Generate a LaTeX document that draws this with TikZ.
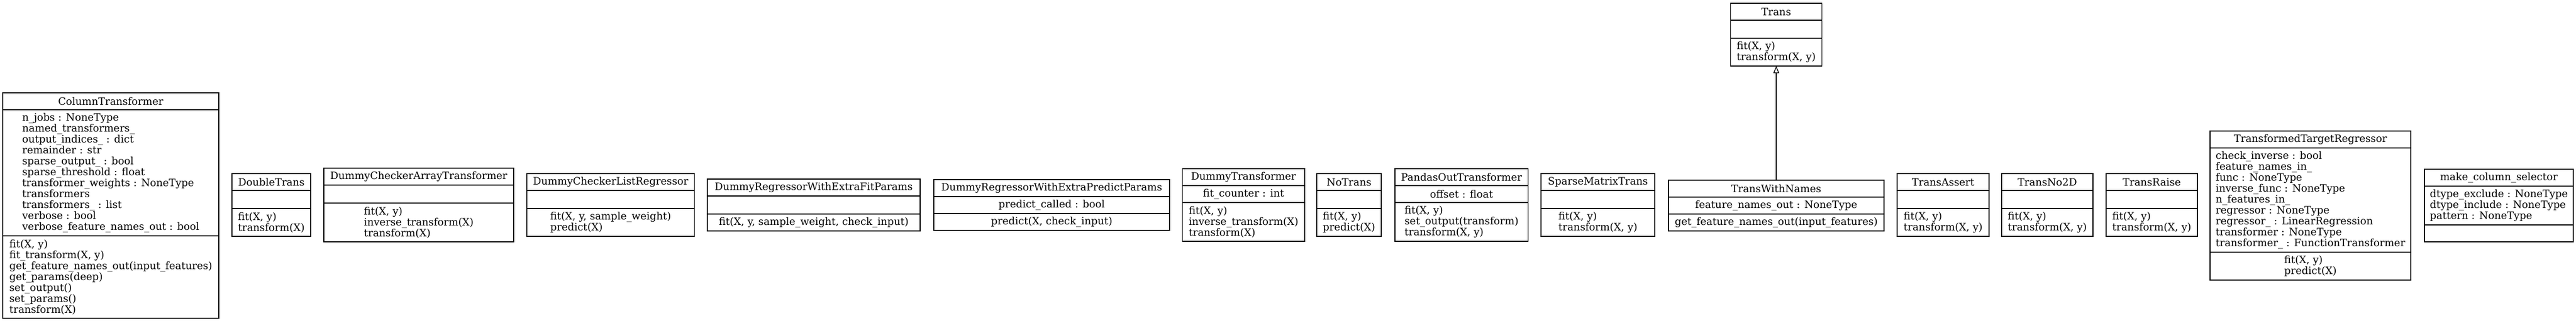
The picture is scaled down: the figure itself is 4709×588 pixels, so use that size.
\documentclass[tikz,border=0pt]{standalone}
\usepackage{fontspec}
\setmainfont{DejaVu Serif}
\usetikzlibrary{arrows.meta, positioning}
\tikzstyle{umlpart} = [rectangle, draw=black, line width=1pt, outer sep=0pt, inner xsep=7pt, inner ysep=0pt, align=left, font=\fontsize{14}{15}\selectfont]
\tikzstyle{inherits} = [line width=1pt, -{Triangle[open, length=9.75pt, width=8pt]}]
% name, top left, width, title, attribute height, attributes, method height, methods
\newcommand{\umlclass}[8]{%
    \node (#1) [umlpart, minimum width=#3, minimum height=23.25pt, anchor=north west] at (#2) {#4};
    \node (#1Attr) [umlpart, minimum width=#3, minimum height=#5, below=0pt of #1] {#6};
    \node (#1Ops) [umlpart, minimum width=#3, minimum height=#7, below=0pt of #1Attr] {#8};}

\begin{document}
\begin{tikzpicture}[x=0.75pt, y=-0.75pt]
    \useasboundingbox (0,0) rectangle (4709,588);

    \umlclass{columnTransformer}{5,170}{296.25pt}{ColumnTransformer}
        {173.25pt}{n\_jobs : NoneType\\named\_transformers\_\\output\_indices\_ : dict\\remainder : str\\sparse\_output\_ : bool\\sparse\_threshold : float\\transformer\_weights : NoneType\\transformers\\transformers\_ : list\\verbose : bool\\verbose\_feature\_names\_out : bool}
        {113.25pt}{fit(X, y)\\fit\_transform(X, y)\\get\_feature\_names\_out(input\_features)\\get\_params(deep)\\set\_output()\\set\_params()\\transform(X)}
    \umlclass{doubleTrans}{424,318}{108pt}{DoubleTrans}
        {24.75pt}{}
        {38.25pt}{fit(X, y)\\transform(X)}
    \umlclass{checkerArray}{592,308}{260.25pt}{DummyCheckerArrayTransformer}
        {24.75pt}{}
        {53.25pt}{fit(X, y)\\inverse\_transform(X)\\transform(X)}
    \umlclass{checkerList}{963,318}{230pt}{DummyCheckerListRegressor}
        {24.75pt}{}
        {38.25pt}{fit(X, y, sample\_weight)\\predict(X)}
    \umlclass{extraFit}{1293,328}{291.75pt}{DummyRegressorWithExtraFitParams}
        {24.75pt}{}
        {23.25pt}{fit(X, y, sample\_weight, check\_input)}
    \umlclass{extraPredict}{1707,329}{323.25pt}{DummyRegressorWithExtraPredictParams}
        {23.25pt}{predict\_called : bool}
        {23.25pt}{predict(X, check\_input)}
    \umlclass{dummyTrans}{2161.5,309}{167.6pt}{DummyTransformer}
        {23.25pt}{fit\_counter : int}
        {53.25pt}{fit(X, y)\\inverse\_transform(X)\\transform(X)}
    \umlclass{noTrans}{2407,318}{88.5pt}{NoTrans}
        {24.75pt}{}
        {38.25pt}{fit(X, y)\\predict(X)}
    \umlclass{pandasOut}{2550,309}{182.6pt}{PandasOutTransformer}
        {23.25pt}{offset : float}
        {53.25pt}{fit(X, y)\\set\_output(transform)\\transform(X, y)}
    \umlclass{sparseTrans}{2817,318}{156pt}{SparseMatrixTrans}
        {24.75pt}{}
        {38.25pt}{fit(X, y)\\transform(X, y)}
    \umlclass{transWithNames}{3050,330}{295.5pt}{TransWithNames}
        {23.25pt}{feature\_names\_out : NoneType}
        {23.25pt}{get\_feature\_names\_out(input\_features)}
    \umlclass{trans}{3163.5,6}{125.25pt}{Trans}
        {24.75pt}{}
        {38.25pt}{fit(X, y)\\transform(X, y)}
    \umlclass{transAssert}{3468,318}{126pt}{TransAssert}
        {24.75pt}{}
        {38.25pt}{fit(X, y)\\transform(X, y)}
    \umlclass{transNo2D}{3659,318}{125.25pt}{TransNo2D}
        {24.75pt}{}
        {38.25pt}{fit(X, y)\\transform(X, y)}
    \umlclass{transRaise}{3850,318}{125.25pt}{TransRaise}
        {24.75pt}{}
        {38.25pt}{fit(X, y)\\transform(X, y)}
    \umlclass{targetRegressor}{4040,240}{275.25pt}{TransformedTargetRegressor}
        {143.25pt}{check\_inverse : bool\\feature\_names\_in\_\\func : NoneType\\inverse\_func : NoneType\\n\_features\_in\_\\regressor : NoneType\\regressor\_ : LinearRegression\\transformer : NoneType\\transformer\_ : FunctionTransformer}
        {38.25pt}{fit(X, y)\\predict(X)}
    \umlclass{columnSelector}{4432,310}{204pt}{make\_column\_selector}
        {53.25pt}{dtype\_exclude : NoneType\\dtype\_include : NoneType\\pattern : NoneType}
        {23.25pt}{}

    \draw [inherits] (transWithNames.north) -- (transOps.south);

\end{tikzpicture}
\end{document}
